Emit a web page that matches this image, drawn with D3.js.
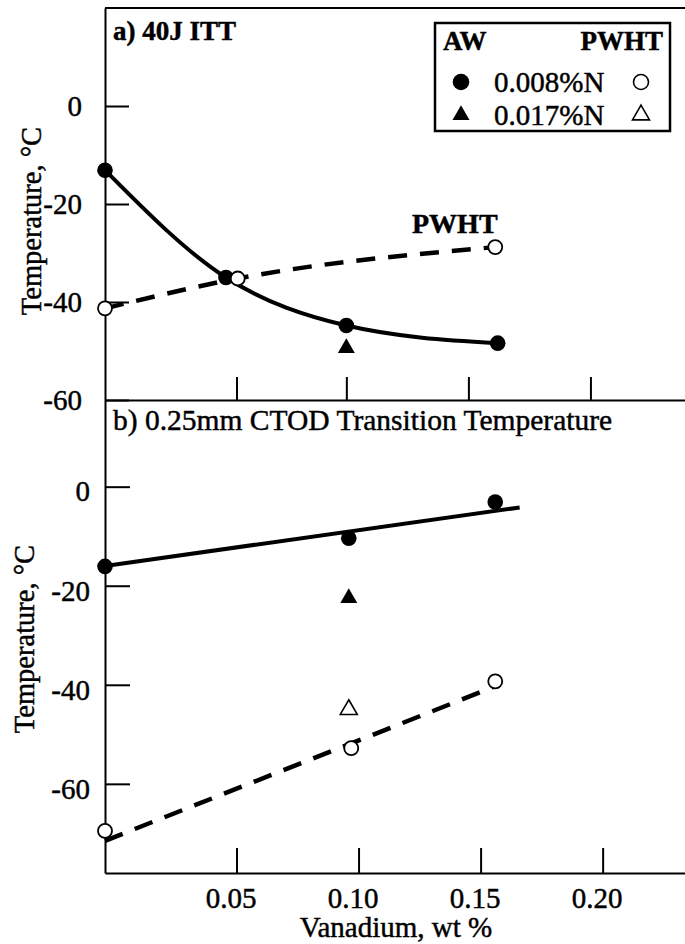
<!DOCTYPE html>
<html><head><meta charset="utf-8">
<script src="https://cdn.jsdelivr.net/npm/d3@7"></script>
<style>
body{margin:0;background:#fff}
svg text{font-family:"Liberation Serif","Times New Roman",serif;fill:#000;stroke:#000;stroke-width:0.45px}
</style>
</head><body><svg id="c" width="685" height="944"></svg>
<script>
// ---------------- data ----------------
const xTickValuesTop = [0.05, 0.095, 0.145, 0.195];
const xTickValuesBottom = [0.05, 0.10, 0.15, 0.20];
const xTickLabels = ["0.05", "0.10", "0.15", "0.20"];
const yTicksTop = [0, -20, -40, -60];
const yTicksBottom = [0, -20, -40, -60];

// panel a) 40J ITT  [vanadium wt%, temperature C]
const ittAW008 = [[0, -13.1], [0.046, -35.0], [0.095, -44.8], [0.157, -48.4]];
const ittAW017 = [[0.095, -49.4]];
const ittPWHT008 = [[0, -41.3], [0.0505, -35.2], [0.156, -28.8]];

// panel b) 0.25mm CTOD transition temperature
const ctodAW008 = [[0, -16.1], [0.096, -10.4], [0.156, -3.1]];
const ctodAW017 = [[0.096, -22.5]];
const ctodPWHT017 = [[0.096, -45.0]];
const ctodPWHT008 = [[0, -69.5], [0.097, -52.8], [0.156, -39.3]];
const ctodAWFit = [[0, -16], [0.166, -4.2]];
const ctodPWHTFit = [[0, -71.5], [0.155, -40.5]];

const legendRows = [
  {label: "0.008%N", shape: "circle"},
  {label: "0.017%N", shape: "triangle"}
];

// ---------------- layout ----------------
const svg = d3.select("#c");
const W = 685;
const x = d3.scaleLinear().domain([0, 0.05, 0.25]).range([105, 236.5, 724.7]);
const yA = d3.scaleLinear().domain([-60, 20]).range([400, 8]);
const yB = d3.scaleLinear().domain([-78, 17.5]).range([873, 400]);

const tri = d3.symbol().type(d3.symbolTriangle).size(125);

function styleAxis(g) {
  g.attr("font-family", null).attr("font-size", null);
  g.selectAll("path.domain").attr("stroke-width", 2);
  g.selectAll(".tick line").attr("stroke-width", 2);
  g.selectAll(".tick text").style("font-size", "29px");
}

// top border
svg.append("line").attr("x1", x(0)).attr("x2", W).attr("y1", yA(20)).attr("y2", yA(20))
  .attr("stroke", "#000").attr("stroke-width", 2);

// panel a axes
svg.append("g").attr("transform", `translate(${x(0)},0)`)
  .call(d3.axisLeft(yA).tickValues(yTicksTop).tickSize(-24).tickSizeOuter(0).tickPadding(23).tickFormat(d => String(d)))
  .call(styleAxis);
svg.append("g").attr("transform", `translate(0,${yA(-60)})`)
  .call(d3.axisTop(x).tickValues(xTickValuesTop).tickSize(23).tickSizeOuter(0).tickFormat(""))
  .call(styleAxis);

// panel b axes
const gyb = svg.append("g").attr("transform", `translate(${x(0)},0)`)
  .call(d3.axisLeft(yB).tickValues(yTicksBottom).tickSize(-25).tickSizeOuter(0).tickPadding(15).tickFormat(d => String(d)))
  .call(styleAxis);
gyb.selectAll(".tick text").attr("y", 5);
const gxb = svg.append("g").attr("transform", `translate(0,${yB(-78)})`)
  .call(d3.axisBottom(x).tickValues(xTickValuesBottom).tickSize(-25).tickSizeOuter(0).tickPadding(14).tickFormat((d, i) => xTickLabels[i]))
  .call(styleAxis);
gxb.selectAll(".tick text").attr("dx", -6);

// axis titles
svg.append("text").attr("transform", "translate(41,221) rotate(-90)")
  .attr("text-anchor", "middle").style("font-size", "28.5px").text("Temperature, °C");
svg.append("text").attr("transform", "translate(34,639) rotate(-90)")
  .attr("text-anchor", "middle").style("font-size", "28.5px").text("Temperature, °C");
svg.append("text").attr("x", 396).attr("y", 937)
  .attr("text-anchor", "middle").style("font-size", "29px").text("Vanadium, wt %");

// panel titles
svg.append("text").attr("x", 113).attr("y", 40).style("font-size", "27px").style("font-weight", "bold").text("a) 40J ITT");
svg.append("text").attr("x", 113).attr("y", 430).style("font-size", "29.5px").text("b) 0.25mm CTOD Transition Temperature");

// ---------------- lines ----------------
function lineGen(ys, curve) {
  return d3.line().x(d => x(d[0])).y(d => ys(d[1])).curve(curve || d3.curveLinear);
}
svg.append("path").attr("d", lineGen(yA, d3.curveMonotoneX)(ittAW008))
  .attr("fill", "none").attr("stroke", "#000").attr("stroke-width", 4);
svg.append("path").attr("d", lineGen(yA, d3.curveMonotoneX)(ittPWHT008))
  .attr("fill", "none").attr("stroke", "#000").attr("stroke-width", 4.5).attr("stroke-dasharray", "19,13");
svg.append("path").attr("d", lineGen(yB)(ctodAWFit))
  .attr("fill", "none").attr("stroke", "#000").attr("stroke-width", 4);
svg.append("path").attr("d", lineGen(yB)(ctodPWHTFit))
  .attr("fill", "none").attr("stroke", "#000").attr("stroke-width", 4.5).attr("stroke-dasharray", "19,13");

svg.append("text").attr("x", 412).attr("y", 233).style("font-size", "28px").style("font-weight", "bold").text("PWHT");

// ---------------- markers ----------------
function circles(data, ys, filled) {
  svg.append("g").selectAll("circle").data(data).join("circle")
    .attr("cx", d => x(d[0])).attr("cy", d => ys(d[1]))
    .attr("r", filled ? 7.8 : 7)
    .attr("fill", filled ? "#000" : "#fff")
    .attr("stroke", "#000").attr("stroke-width", filled ? 0 : 1.8);
}
function triangles(data, ys, filled) {
  svg.append("g").selectAll("path").data(data).join("path")
    .attr("transform", d => `translate(${x(d[0])},${ys(d[1])})`)
    .attr("d", tri)
    .attr("fill", filled ? "#000" : "#fff")
    .attr("stroke", "#000").attr("stroke-width", filled ? 0 : 1.6);
}
circles(ittAW008, yA, true);
triangles(ittAW017, yA, true);
circles(ittPWHT008, yA, false);
circles(ctodAW008, yB, true);
triangles(ctodAW017, yB, true);
triangles(ctodPWHT017, yB, false);
circles(ctodPWHT008, yB, false);

// ---------------- legend ----------------
const lg = svg.append("g");
lg.append("rect").attr("x", 435).attr("y", 23).attr("width", 235).attr("height", 108)
  .attr("fill", "#fff").attr("stroke", "#000").attr("stroke-width", 2.5);
lg.append("text").attr("x", 443).attr("y", 50).style("font-size", "27px").style("font-weight", "bold").text("AW");
lg.append("text").attr("x", 663).attr("y", 50).attr("text-anchor", "end").style("font-size", "27px").style("font-weight", "bold").text("PWHT");
legendRows.forEach((r, i) => {
  const cy = 82 + i * 33;
  lg.append("text").attr("x", 494).attr("y", cy + 9.5).style("font-size", "29px").text(r.label);
  if (r.shape === "circle") {
    lg.append("circle").attr("cx", 461).attr("cy", cy).attr("r", 8.3).attr("fill", "#000");
    lg.append("circle").attr("cx", 641).attr("cy", cy).attr("r", 7.5).attr("fill", "#fff").attr("stroke", "#000").attr("stroke-width", 1.6);
  } else {
    lg.append("path").attr("transform", `translate(461,${cy})`).attr("d", tri).attr("fill", "#000");
    lg.append("path").attr("transform", `translate(641,${cy})`).attr("d", tri).attr("fill", "#fff").attr("stroke", "#000").attr("stroke-width", 1.6);
  }
});
</script>
</body></html>
